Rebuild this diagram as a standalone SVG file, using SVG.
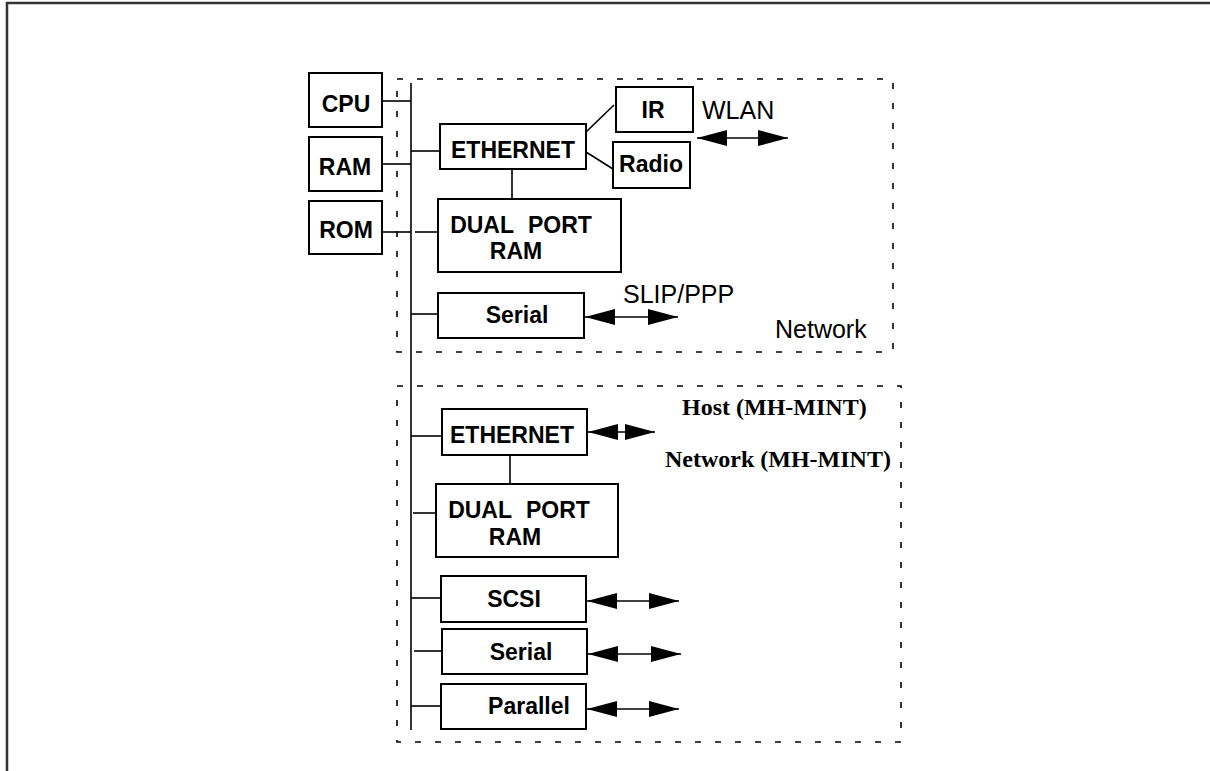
<svg xmlns="http://www.w3.org/2000/svg" width="1210" height="771" viewBox="0 0 1210 771">
  <style>
    .box { fill: #fff; stroke: #000; stroke-width: 2; }
    .wire { stroke: #000; stroke-width: 1.6; fill: none; }
    .link { stroke: #000; stroke-width: 1.6; fill: none; marker-start: url(#head); marker-end: url(#head); }
    .zone { fill: none; stroke: #000; stroke-width: 1.6; stroke-dasharray: 6 14; }
    .lbl { font-family: "Liberation Sans", Arial, sans-serif; font-weight: bold; font-size: 23px; fill: #000; text-anchor: middle; }
    .note { font-family: "Liberation Sans", Arial, sans-serif; font-size: 25px; fill: #000; }
    .serif { font-family: "Liberation Serif", "Times New Roman", serif; font-weight: bold; font-size: 24px; fill: #000; }
  </style>
  <defs>
    <marker id="head" viewBox="0 0 30 16" markerWidth="30" markerHeight="16" refX="30" refY="8" orient="auto-start-reverse" markerUnits="userSpaceOnUse">
      <path d="M0,0 L30,8 L0,16 Z" fill="#000"/>
    </marker>
  </defs>

  <rect width="1210" height="771" fill="#fff"/>
  <!-- page frame -->
  <rect x="7" y="3" width="1300" height="1000" fill="none" stroke="#333" stroke-width="2.5"/>

  <!-- dashed zones -->
  <g id="zones">
    <rect class="zone" x="397" y="79" width="496" height="273"/>
    <rect class="zone" x="397" y="386" width="504" height="356"/>
  </g>

  <!-- connectors -->
  <g id="connectors">
    <line class="wire" x1="411" y1="83" x2="411" y2="730"/>
    <line class="wire" x1="382" y1="101" x2="411" y2="101"/>
    <line class="wire" x1="382" y1="164" x2="411" y2="164"/>
    <line class="wire" x1="382" y1="232" x2="411" y2="232"/>
    <line class="wire" x1="411" y1="151" x2="440" y2="151"/>
    <line class="wire" x1="415" y1="232" x2="438" y2="232"/>
    <line class="wire" x1="512" y1="169" x2="512" y2="199"/>
    <line class="wire" x1="586" y1="132" x2="614" y2="105"/>
    <line class="wire" x1="586" y1="152" x2="613" y2="169"/>
    <line class="wire" x1="411" y1="314" x2="438" y2="314"/>
    <line class="wire" x1="411" y1="436" x2="442" y2="436"/>
    <line class="wire" x1="510" y1="455" x2="510" y2="484"/>
    <line class="wire" x1="413" y1="513" x2="436" y2="513"/>
    <line class="wire" x1="411" y1="598" x2="441" y2="598"/>
    <line class="wire" x1="414" y1="651" x2="442" y2="651"/>
    <line class="wire" x1="411" y1="706" x2="441" y2="706"/>

    <line class="link" x1="697" y1="138" x2="788" y2="138"/>
    <line class="link" x1="585" y1="317" x2="678" y2="317"/>
    <line class="link" x1="588" y1="432" x2="655" y2="432"/>
    <line class="link" x1="587" y1="601" x2="679" y2="601"/>
    <line class="link" x1="588" y1="654" x2="681" y2="654"/>
    <line class="link" x1="587" y1="709" x2="679" y2="709"/>
  </g>

  <!-- host side -->
  <g id="cpu">
    <rect class="box" x="309" y="73" width="73" height="54"/>
    <text class="lbl" x="346" y="112">CPU</text>
  </g>
  <g id="ram">
    <rect class="box" x="309" y="137" width="73" height="54"/>
    <text class="lbl" x="345" y="175">RAM</text>
  </g>
  <g id="rom">
    <rect class="box" x="309" y="201" width="73" height="53"/>
    <text class="lbl" x="346" y="238">ROM</text>
  </g>

  <!-- network block -->
  <g id="net-ethernet">
    <rect class="box" x="440" y="124" width="146" height="45"/>
    <text class="lbl" x="513" y="158">ETHERNET</text>
  </g>
  <g id="net-ir">
    <rect class="box" x="616" y="87" width="77" height="45"/>
    <text class="lbl" x="653" y="118">IR</text>
  </g>
  <g id="net-radio">
    <rect class="box" x="613" y="142" width="77" height="46"/>
    <text class="lbl" x="651" y="172">Radio</text>
  </g>
  <g id="net-dpram">
    <rect class="box" x="438" y="199" width="183" height="73"/>
    <text class="lbl" x="521" y="233" word-spacing="8">DUAL PORT</text>
    <text class="lbl" x="516" y="259">RAM</text>
  </g>
  <g id="net-serial">
    <rect class="box" x="438" y="293" width="146" height="45"/>
    <text class="lbl" x="517" y="323">Serial</text>
  </g>
  <g id="net-labels">
    <text class="note" x="702" y="119">WLAN</text>
    <text class="note" x="623" y="303">SLIP/PPP</text>
    <text class="note" x="775" y="338">Network</text>
  </g>

  <!-- MH-MINT block -->
  <g id="mint-ethernet">
    <rect class="box" x="442" y="409" width="145" height="46"/>
    <text class="lbl" x="512" y="443">ETHERNET</text>
  </g>
  <g id="mint-dpram">
    <rect class="box" x="436" y="484" width="182" height="73"/>
    <text class="lbl" x="519" y="518" word-spacing="8">DUAL PORT</text>
    <text class="lbl" x="515" y="545">RAM</text>
  </g>
  <g id="mint-scsi">
    <rect class="box" x="441" y="576" width="145" height="46"/>
    <text class="lbl" x="514" y="607">SCSI</text>
  </g>
  <g id="mint-serial">
    <rect class="box" x="442" y="629" width="145" height="45"/>
    <text class="lbl" x="521" y="660">Serial</text>
  </g>
  <g id="mint-parallel">
    <rect class="box" x="441" y="684" width="145" height="45"/>
    <text class="lbl" x="529" y="714">Parallel</text>
  </g>
  <g id="mint-labels">
    <text class="serif" x="682" y="415">Host (MH-MINT)</text>
    <text class="serif" x="665" y="467">Network (MH-MINT)</text>
  </g>
</svg>
